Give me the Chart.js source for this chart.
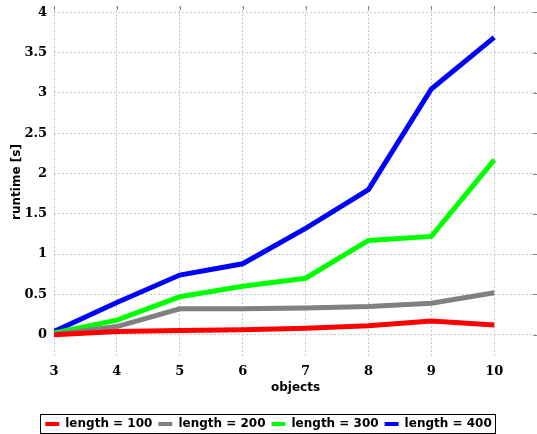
<!DOCTYPE html>
<html>
<head>
<meta charset="utf-8">
<script src="https://cdn.jsdelivr.net/npm/chart.js@4"></script>
<style>
  html, body { margin: 0; padding: 0; background: #fff; }
  #wrap { width: 537px; height: 434px; }
</style>
</head>
<body>
<div id="wrap"><canvas id="myChart"></canvas></div>
<script>
// data
var objects = [3, 4, 5, 6, 7, 8, 9, 10];
var len100 = [0.00, 0.04, 0.05, 0.06, 0.08, 0.11, 0.17, 0.12];
var len200 = [0.00, 0.10, 0.32, 0.32, 0.33, 0.35, 0.39, 0.52];
var len300 = [0.02, 0.18, 0.47, 0.60, 0.70, 1.17, 1.22, 2.17];
var len400 = [0.04, 0.40, 0.74, 0.88, 1.32, 1.80, 3.05, 3.69];
var seriesNames = ['length = 100', 'length = 200', 'length = 300', 'length = 400'];
var seriesColors = ['#ff0000', '#808080', '#00ff00', '#0000ff'];
var xTicks = [3, 4, 5, 6, 7, 8, 9, 10];
var yTicks = [0, 0.5, 1, 1.5, 2, 2.5, 3, 3.5, 4];

var serif = "'DejaVu Serif', serif";
var sans = "'DejaVu Sans', sans-serif";

function toPoints(vals) {
  return vals.map(function (v, i) { return { x: objects[i], y: v }; });
}

var allSeries = [len100, len200, len300, len400];
var datasets = allSeries.map(function (vals, i) {
  return {
    label: seriesNames[i],
    data: toPoints(vals),
    borderColor: seriesColors[i],
    backgroundColor: seriesColors[i],
    borderWidth: 5,
    pointRadius: 0,
    tension: 0,
    fill: false
  };
});

// border around the legend + small tick marks on opposite sides
var extras = {
  id: 'extras',
  afterDraw: function (chart) {
    var ctx = chart.ctx;
    var boxes = chart.legend.legendHitBoxes;
    if (boxes && boxes.length) {
      var l = Infinity, r = -Infinity, t = Infinity;
      boxes.forEach(function (h) {
        l = Math.min(l, h.left); r = Math.max(r, h.left + h.width);
        t = Math.min(t, h.top);
      });
      ctx.save();
      ctx.strokeStyle = '#000';
      ctx.lineWidth = 1;
      ctx.strokeRect(Math.round(l - 5) + 0.5, Math.round(t - 4) + 0.5, Math.round(r - l + 9), 19);
      ctx.restore();
    }
    var area = chart.chartArea;
    var xs = chart.scales.x, ys = chart.scales.y;
    ctx.save();
    ctx.strokeStyle = '#888';
    ctx.lineWidth = 1;
    ctx.beginPath();
    xTicks.forEach(function (v) {
      var px = Math.round(xs.getPixelForValue(v)) + 0.5;
      ctx.moveTo(px, area.top); ctx.lineTo(px, area.top + 4);
    });
    yTicks.forEach(function (v) {
      var py = Math.round(ys.getPixelForValue(v)) + 0.5;
      ctx.moveTo(area.right, py); ctx.lineTo(area.right - 4, py);
    });
    ctx.stroke();
    ctx.restore();
  }
};

new Chart(document.getElementById('myChart'), {
  type: 'line',
  data: { datasets: datasets },
  options: {
    responsive: true,
    maintainAspectRatio: false,
    animation: false,
    layout: { padding: { top: 6, right: 0, left: 0, bottom: -6 } },
    plugins: {
      tooltip: { enabled: false },
      legend: {
        position: 'bottom',
        labels: {
          boxWidth: 14,
          boxHeight: 4,
          padding: 6,
          color: '#000',
          font: { family: sans, size: 12, weight: 'bold' },
          generateLabels: function (chart) {
            var items = Chart.defaults.plugins.legend.labels.generateLabels(chart);
            items.forEach(function (it) { it.lineWidth = 0; });
            return items;
          }
        }
      }
    },
    scales: {
      x: {
        type: 'linear',
        min: 3,
        max: 10.68,
        afterBuildTicks: function (s) { s.ticks = xTicks.map(function (v) { return { value: v }; }); },
        afterFit: function (s) { s.height = 54; },
        grid: { color: '#c8c8c8', drawTicks: false },
        border: { display: false, dash: [2, 2] },
        ticks: { color: '#000', padding: 6, maxRotation: 0, font: { family: serif, size: 13, weight: 'bold' },
          callback: function (v) { return String(v); } },
        title: { display: true, text: 'objects', color: '#000', padding: { top: 0, bottom: 17 }, font: { family: sans, size: 12, weight: 'bold' } }
      },
      y: {
        type: 'linear',
        min: -0.29,
        max: 4.08,
        afterBuildTicks: function (s) { s.ticks = yTicks.map(function (v) { return { value: v }; }); },
        afterFit: function (s) { s.width = 54; s.paddingTop = 0; s.paddingBottom = 0; },
        grid: { color: '#c8c8c8', drawTicks: false },
        border: { display: false, dash: [2, 2] },
        ticks: { color: '#000', padding: 7, font: { family: serif, size: 13, weight: 'bold' },
          callback: function (v) { return String(v); } },
        title: { display: true, text: 'runtime [s]', color: '#000', padding: { top: 10, bottom: 0 }, font: { family: sans, size: 12, weight: 'bold' } }
      }
    }
  },
  plugins: [extras]
});
</script>
</body>
</html>
